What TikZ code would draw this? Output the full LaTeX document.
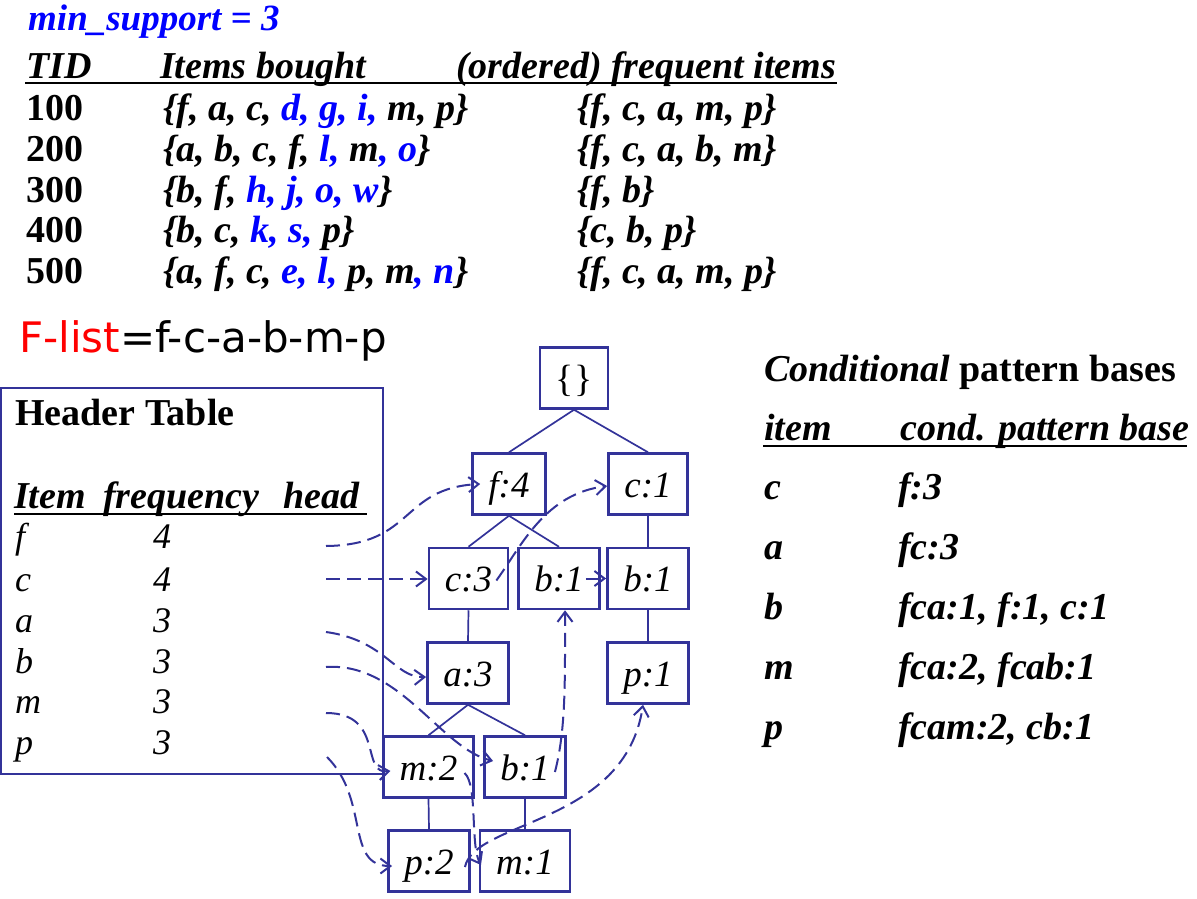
\documentclass[tikz,border=0pt]{standalone}
\usepackage{fontspec}
\setmainfont{Liberation Serif}
\newfontfamily\flistfont{DejaVu Sans}
\usetikzlibrary{arrows.meta}
\definecolor{treeblue}{RGB}{51,51,153}
\definecolor{itemblue}{RGB}{0,0,255}
\newcommand{\setsz}[1]{\fontsize{#1}{#1}\selectfont}
\newcommand{\bl}[1]{\textcolor{itemblue}{#1}}

\begin{document}
\begin{tikzpicture}[x=1pt,y=-1pt]
\tikzset{
  txt/.style={anchor=base west,inner sep=0pt,font=\setsz{38}\bfseries\itshape},
  ht/.style={anchor=base west,inner sep=0pt,font=\setsz{36}\itshape},
  fpnode/.style={draw=treeblue,line width=2.5pt,inner xsep=16pt,inner ysep=0pt,
    minimum height=61pt,text height=26pt,text depth=0pt,font=\setsz{37}\itshape},
  tree/.style={draw=treeblue,line width=1.7pt},
  link/.style={draw=treeblue,line width=2pt,dash pattern=on 14pt off 7pt,
    -{Straight Barb[length=10pt,width=15pt,line width=2pt]}}
}
\useasboundingbox (0,0) rectangle (1197,899);

% Transactions
\node[txt,text=itemblue,font=\setsz{37}\bfseries\itshape] (minsup) at (28,31) {min\_support = 3};
\node[txt] (tid) at (26,78) {TID};
\node[txt] (bought) at (160,78) {Items bought};
\node[txt] (ordered) at (456,78) {(ordered) frequent items};
\draw[line width=2.5pt] (25,83) -- (837,83);

\node[txt,font=\setsz{38}\bfseries] (t100) at (26,120.7) {100};
\node[txt,font=\setsz{38}\bfseries] (t200) at (26,161.4) {200};
\node[txt,font=\setsz{38}\bfseries] (t300) at (26,202.1) {300};
\node[txt,font=\setsz{38}\bfseries] (t400) at (26,242.8) {400};
\node[txt,font=\setsz{38}\bfseries] (t500) at (26,283.5) {500};

\node[txt] (b100) at (163,120.7) {\{f, a, c, \bl{d, g, i,} m, p\}};
\node[txt] (b200) at (163,161.4) {\{a, b, c, f, \bl{l,} m\bl{, o}\}};
\node[txt] (b300) at (163,202.1) {\{b, f, \bl{h, j, o, w}\}};
\node[txt] (b400) at (163,242.8) {\{b, c, \bl{k, s,} p\}};
\node[txt] (b500) at (163,283.5) {\{a, f, c, \bl{e, l,} p, m\bl{, n}\}};

\node[txt] (o100) at (577,120.7) {\{f, c, a, m, p\}};
\node[txt] (o200) at (577,161.4) {\{f, c, a, b, m\}};
\node[txt] (o300) at (577,202.1) {\{f, b\}};
\node[txt] (o400) at (577,242.8) {\{c, b, p\}};
\node[txt] (o500) at (577,283.5) {\{f, c, a, m, p\}};

\node[anchor=base west,inner sep=0pt,font=\flistfont\setsz{42}] (flist) at (19,352)
  {\textcolor{red}{F-list}=f-c-a-b-m-p};

% Header table
\draw[treeblue,line width=2.5pt] (1,388) rectangle (383,774);
\node[txt,font=\setsz{38}\bfseries] (htitle) at (15,425.7) {Header Table};
\node[txt] (hitem) at (14,508) {Item};
\node[txt] (hfreq) at (103,508) {frequency};
\node[txt] (hhead) at (283,508) {head};
\draw[line width=2.5pt] (14,514) -- (367,514);

\node[ht] (hi-f) at (15,548) {f};  \node[ht] (hn-f) at (153,548) {4};
\node[ht] (hi-c) at (15,591) {c};  \node[ht] (hn-c) at (153,591) {4};
\node[ht] (hi-a) at (15,632) {a};  \node[ht] (hn-a) at (153,632) {3};
\node[ht] (hi-b) at (15,673) {b};  \node[ht] (hn-b) at (153,673) {3};
\node[ht] (hi-m) at (15,713) {m};  \node[ht] (hn-m) at (153,713) {3};
\node[ht] (hi-p) at (15,754) {p};  \node[ht] (hn-p) at (153,754) {3};

\coordinate (hf) at (326,546);
\coordinate (hc) at (326,579);
\coordinate (ha) at (326,632);
\coordinate (hb) at (326,667);
\coordinate (hm) at (326,713);
\coordinate (hp) at (327,757);

% FP-tree
\node[fpnode,font=\setsz{38}] (root) at (574,378) {\{\}};
\node[fpnode] (f4) at (509,484) {f:4};
\node[fpnode] (c1) at (648,484) {c:1};
\node[fpnode] (c3) at (468.5,578.5) {c:3};
\node[fpnode] (b1a) at (559,578.5) {b:1};
\node[fpnode] (b1c) at (648,578.5) {b:1};
\node[fpnode] (a3) at (468,673) {a:3};
\node[fpnode] (p1) at (648,673) {p:1};
\node[fpnode] (m2) at (428.5,767) {m:2};
\node[fpnode] (b1b) at (525,767) {b:1};
\node[fpnode] (p2) at (429,861) {p:2};
\node[fpnode] (m1) at (525,861) {m:1};

\draw[tree] (root.south) -- (f4.north);
\draw[tree] (root.south) -- (c1.north);
\draw[tree] (f4.south) -- (c3.north);
\draw[tree] (f4.south) -- (b1a.north);
\draw[tree] (c1.south) -- (b1c.north);
\draw[tree] (c3.south) -- (a3.north);
\draw[tree] (b1c.south) -- (p1.north);
\draw[tree] (a3.south) -- (m2.north);
\draw[tree] (a3.south) -- (b1b.north);
\draw[tree] (m2.south) -- (p2.north);
\draw[tree] (b1b.south) -- (m1.north);

% Node-links
\draw[link] (hf) .. controls (415,545) and (400,488) .. ([xshift=9pt]f4.west);
\draw[link] (hc) -- (c3.west |- hc);
\draw[link] ([xshift=-13pt,yshift=-2pt]c3.east) .. controls (522,545) and (545,494) .. ([yshift=-2pt]c1.west);
\draw[link] ([xshift=-15pt]b1a.east) -- (b1c.west);
\draw[link] (ha) .. controls (385,640) and (395,678) .. ([yshift=-4pt]a3.west);
\draw[link] (hb) .. controls (400,662) and (440,748) .. ([xshift=10pt,yshift=6pt]b1b.west);
\draw[link] ([xshift=-12pt,yshift=-5pt]b1b.east) .. controls (566,730) and (565,680) .. ([xshift=6pt]b1a.south);
\draw[link] (hm) .. controls (385,713) and (360,775) .. ([xshift=8pt,yshift=-4pt]m2.west);
\draw[link] ([xshift=-10pt,yshift=-6pt]m2.east) .. controls (478,785) and (470,845) .. ([xshift=2pt,yshift=-4pt]m1.west);
\draw[link] (hp) .. controls (370,800) and (345,866) .. ([xshift=5pt,yshift=-5pt]p2.west);
\draw[link] ([xshift=-6pt,yshift=-6pt]p2.east) .. controls (475,820) and (625,825) .. ([xshift=-5pt]p1.south);

% Conditional pattern bases
\node[txt,font=\setsz{38}\bfseries] (cpb) at (764,381.7) {\textit{Conditional} pattern bases};
\node[txt] (citem) at (764,440) {item};
\node[txt] (cbase) at (900,440) {cond. pattern base};
\draw[line width=2.5pt] (763,446) -- (1187,446);

\node[txt] (ci-c) at (764,499) {c};  \node[txt] (cv-c) at (898,499) {f:3};
\node[txt] (ci-a) at (764,559) {a};  \node[txt] (cv-a) at (898,559) {fc:3};
\node[txt] (ci-b) at (764,619) {b};  \node[txt] (cv-b) at (898,619) {fca:1, f:1, c:1};
\node[txt] (ci-m) at (764,679) {m};  \node[txt] (cv-m) at (898,679) {fca:2, fcab:1};
\node[txt] (ci-p) at (764,739) {p};  \node[txt] (cv-p) at (898,739) {fcam:2, cb:1};

\end{tikzpicture}
\end{document}
